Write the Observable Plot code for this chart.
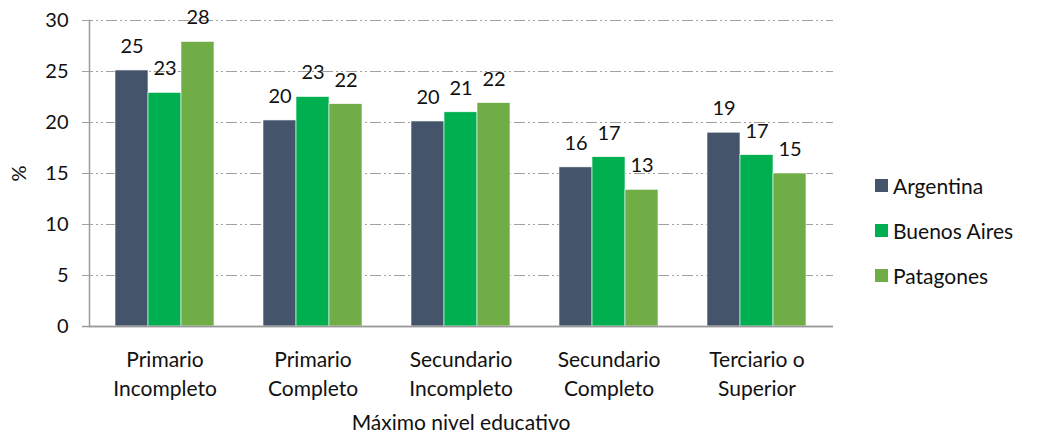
<!DOCTYPE html>
<html>
<head>
<meta charset="utf-8">
<script src="https://cdn.jsdelivr.net/npm/d3@7"></script>
<script src="https://cdn.jsdelivr.net/npm/@observablehq/plot@0.6"></script>
<style>
  body { margin: 0; background: #fff; font-family: Lato, "Open Sans", sans-serif; }
  #wrap { position: relative; width: 1037px; height: 434px; background: #fff; }
  #wrap svg { position: absolute; left: 0; top: 0; }
  #legend { position: absolute; left: 875px; top: 172px; font-size: 21px; color: #111; }
  #legend .row { display: flex; align-items: center; height: 26px; margin-bottom: 19px; }
  #legend .sw { width: 13px; height: 13px; margin-right: 5px; }
</style>
</head>
<body>
<div id="wrap"><div id="legend"></div></div>
<script>
const categories = ["Primario\nIncompleto", "Primario\nCompleto", "Secundario\nIncompleto", "Secundario\nCompleto", "Terciario o\nSuperior"];
const series = ["Argentina", "Buenos Aires", "Patagones"];
const argentina = [25.1, 20.2, 20.1, 15.6, 19.0];
const buenosAires = [22.9, 22.5, 21.0, 16.6, 16.8];
const patagones = [27.9, 21.8, 21.9, 13.4, 15.0];
const colors = ["#44546A", "#00B050", "#70AD47"];
const yTicks = [0, 5, 10, 15, 20, 25, 30];

const values = [argentina, buenosAires, patagones];
const data = [];
categories.forEach((c, i) => series.forEach((s, j) => data.push({cat: c, series: s, value: values[j][i]})));

const common = {
  width: 1037, height: 434,
  marginRight: 204, marginTop: 20, marginBottom: 108,
  style: {fontFamily: "Lato, 'Open Sans', sans-serif", fontSize: "20px", color: "#111", background: "transparent"},
  y: {domain: [0, 30], axis: null}
};

// Layer 1: dash-dot-dot gridlines (starting just left of the axis) and baseline
const gridLayer = Plot.plot({
  ...common,
  marginLeft: 82,
  marks: [
    Plot.ruleY(yTicks.filter(t => t > 0), {stroke: "#a0a0a0", strokeWidth: 1, strokeDasharray: "11,3,2,3,2,3"}),
    Plot.ruleY([0], {stroke: "#9a9a9a", strokeWidth: 1.5})
  ]
});

// Layer 2: grouped bars, value labels, category axis
const barLayer = Plot.plot({
  ...common,
  marginLeft: 89,
  fx: {domain: categories, paddingInner: 0.33, paddingOuter: 0.165, axis: null},
  x: {domain: series, padding: 0, axis: null},
  color: {domain: series, range: colors},
  marks: [
    Plot.barY(data, {fx: "cat", x: "series", y: "value", fill: "series", stroke: "#fff", strokeWidth: 0.6}),
    Plot.text(data, {fx: "cat", x: "series", y: "value", text: d => d3.format(".0f")(d.value), dy: -24, fontSize: 20, fill: "#111"}),
    Plot.axisFx({anchor: "bottom", tickSize: 0, tickPadding: 20, fontSize: 21, fill: "#111", lineHeight: 1.38,
      label: "Máximo nivel educativo", labelAnchor: "center", labelArrow: "none", labelOffset: 103})
  ]
});

// Layer 3: value axis with its line, on top
const axisLayer = Plot.plot({
  ...common,
  marginLeft: 89,
  marks: [
    Plot.axisY(yTicks, {tickSize: 0, tickPadding: 21, fontSize: 20, fill: "#111",
      label: "%", labelAnchor: "center", labelArrow: "none", labelOffset: 78}),
    Plot.ruleY([0], {stroke: "#9a9a9a", strokeWidth: 1.5}),
    Plot.frame({anchor: "left", stroke: "#9a9a9a", strokeWidth: 1.5})
  ]
});

const wrap = document.getElementById("wrap");
wrap.prepend(axisLayer);
wrap.prepend(barLayer);
wrap.prepend(gridLayer);

const legend = document.getElementById("legend");
series.forEach((s, i) => {
  const row = document.createElement("div");
  row.className = "row";
  row.innerHTML = `<div class="sw" style="background:${colors[i]}"></div><span>${s}</span>`;
  legend.appendChild(row);
});
</script>
</body>
</html>
